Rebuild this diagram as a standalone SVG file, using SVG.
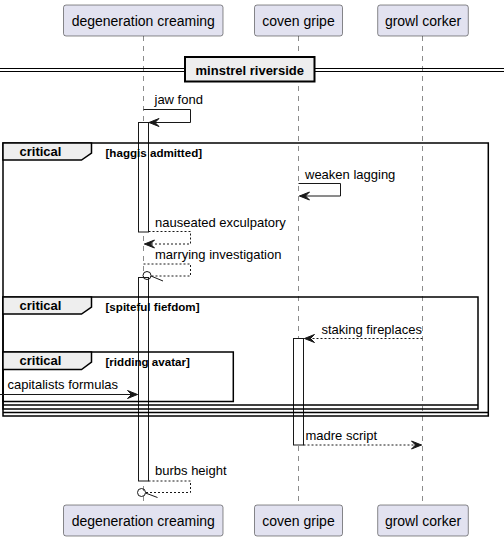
<svg xmlns="http://www.w3.org/2000/svg" width="504" height="542" viewBox="0 0 504 542">
<defs>
<style>
.life{stroke:#181818;stroke-width:0.5;stroke-dasharray:5,5;fill:none}
.pbox{fill:#E2E2F0;stroke:#181818;stroke-width:0.5}
.ptxt{font-family:"Liberation Sans",Arial,sans-serif;font-size:14px;fill:#000;text-anchor:middle}
.act{fill:#FFFFFF;stroke:#181818;stroke-width:1}
.msg{stroke:#181818;stroke-width:1;fill:none}
.dash{stroke:#181818;stroke-width:1;fill:none;stroke-dasharray:2,2}
.mtxt{font-family:"Liberation Sans",Arial,sans-serif;font-size:13px;fill:#000}
.frame{fill:none;stroke:#000;stroke-width:1.5}
.tab{fill:#EEEEEE;stroke:#000;stroke-width:1.5}
.ftxt{font-family:"Liberation Sans",Arial,sans-serif;font-size:13px;font-weight:bold;fill:#000}
.gtxt{font-family:"Liberation Sans",Arial,sans-serif;font-size:11.6px;font-weight:bold;fill:#000}
.head{fill:#181818;stroke:#181818;stroke-width:1}
</style>
</defs>
<g id="lifelines">
<line class="life" x1="143.5" y1="36" x2="143.5" y2="505"/>
<line class="life" x1="298.5" y1="36" x2="298.5" y2="505"/>
<line class="life" x1="422.5" y1="36" x2="422.5" y2="505"/>
</g>
<g id="p-degeneration-creaming">
<rect class="pbox" x="63.5" y="5" width="159.5" height="31" rx="2.5"/>
<text class="ptxt" x="143.25" y="26">degeneration creaming</text>
<rect class="pbox" x="63.5" y="505" width="159.5" height="31" rx="2.5"/>
<text class="ptxt" x="143.25" y="526">degeneration creaming</text>
</g>
<g id="p-coven-gripe">
<rect class="pbox" x="254.5" y="5" width="88" height="31" rx="2.5"/>
<text class="ptxt" x="298.5" y="26">coven gripe</text>
<rect class="pbox" x="254.5" y="505" width="88" height="31" rx="2.5"/>
<text class="ptxt" x="298.5" y="526">coven gripe</text>
</g>
<g id="p-growl-corker">
<rect class="pbox" x="377.7" y="5" width="90.6" height="31" rx="2.5"/>
<text class="ptxt" x="423" y="26">growl corker</text>
<rect class="pbox" x="377.7" y="505" width="90.6" height="31" rx="2.5"/>
<text class="ptxt" x="423" y="526">growl corker</text>
</g>
<g id="activations">
<rect class="act" x="138.5" y="122.5" width="10" height="109.5"/>
<rect class="act" x="138.5" y="277.5" width="10" height="203.5"/>
<rect class="act" x="293.5" y="338.5" width="10" height="106.5"/>
</g>
<g id="divider">
<line x1="0" y1="68.5" x2="504" y2="68.5" stroke="#000" stroke-width="1"/>
<line x1="0" y1="71.5" x2="504" y2="71.5" stroke="#000" stroke-width="1"/>
<rect x="185" y="57" width="129.5" height="24.5" fill="#EEEEEE" stroke="#000" stroke-width="2"/>
<text class="ftxt" x="249.75" y="74.5" text-anchor="middle">minstrel riverside</text>
</g>
<g id="frame-haggis-admitted">
<rect class="frame" x="3" y="143" width="485.3" height="273"/>
<line class="frame" x1="3" y1="412.5" x2="488.3" y2="412.5"/>
<polygon class="tab" points="3,143 91.5,143 91.5,153 81.5,160 3,160"/>
<text class="ftxt" x="19.5" y="156">critical</text>
<text class="gtxt" x="105.5" y="157">[haggis admitted]</text>
</g>
<g id="frame-spiteful-fiefdom">
<rect class="frame" x="3" y="297" width="475" height="112"/>
<line class="frame" x1="3" y1="405" x2="478" y2="405"/>
<polygon class="tab" points="3,297 91.5,297 91.5,307 81.5,314 3,314"/>
<text class="ftxt" x="19.5" y="310">critical</text>
<text class="gtxt" x="105.5" y="311">[spiteful fiefdom]</text>
</g>
<g id="frame-ridding-avatar">
<rect class="frame" x="3" y="352" width="230.3" height="49.5"/>
<polygon class="tab" points="3,352 91.5,352 91.5,362 81.5,369.5 3,369.5"/>
<text class="ftxt" x="19.5" y="365">critical</text>
<text class="gtxt" x="105.5" y="366">[ridding avatar]</text>
</g>
<g id="connectors">
<polyline class="msg" points="143.5,109.5 190.5,109.5 190.5,122.5 149,122.5"/>
<polygon class="head" points="159,118.5 149,122.5 159,126.5 155,122.5"/>
<text class="mtxt" x="154.5" y="104">jaw fond</text>

<polyline class="msg" points="298.5,183.5 340.5,183.5 340.5,196 299.5,196"/>
<polygon class="head" points="309.5,192 299.5,196 309.5,200 305.5,196"/>
<text class="mtxt" x="305" y="178.5">weaken lagging</text>

<polyline class="dash" points="148.5,231.5 190.5,231.5 190.5,244 144.5,244"/>
<polygon class="head" points="154.5,240 144.5,244 154.5,248 150.5,244"/>
<text class="mtxt" x="155" y="226.5">nauseated exculpatory</text>

<polyline class="dash" points="143.5,264 190.5,264 190.5,276 151,276"/>
<circle cx="147" cy="275.5" r="4" fill="none" stroke="#181818" stroke-width="1"/>
<line class="msg" x1="151" y1="276" x2="163" y2="281"/>
<text class="mtxt" x="155" y="259">marrying investigation</text>

<line class="dash" x1="422.5" y1="338.5" x2="304.5" y2="338.5"/>
<polygon class="head" points="314.5,334.5 304.5,338.5 314.5,342.5 310.5,338.5"/>
<text class="mtxt" x="321.5" y="333.5">staking fireplaces</text>

<line class="msg" x1="0" y1="394.5" x2="137.5" y2="394.5"/>
<polygon class="head" points="127.5,390.5 137.5,394.5 127.5,398.5 131.5,394.5"/>
<text class="mtxt" x="7.5" y="389">capitalists formulas</text>

<line class="dash" x1="303.5" y1="445" x2="421.5" y2="445"/>
<polygon class="head" points="411.5,441 421.5,445 411.5,449 415.5,445"/>
<text class="mtxt" x="305.5" y="440">madre script</text>

<polyline class="dash" points="148.5,481 190.5,481 190.5,492.5 146,492.5"/>
<circle cx="141.5" cy="492.5" r="4" fill="none" stroke="#181818" stroke-width="1"/>
<line class="msg" x1="145.5" y1="493" x2="157.5" y2="497.5"/>
<text class="mtxt" x="155" y="475">burbs height</text>
</g>
</svg>
